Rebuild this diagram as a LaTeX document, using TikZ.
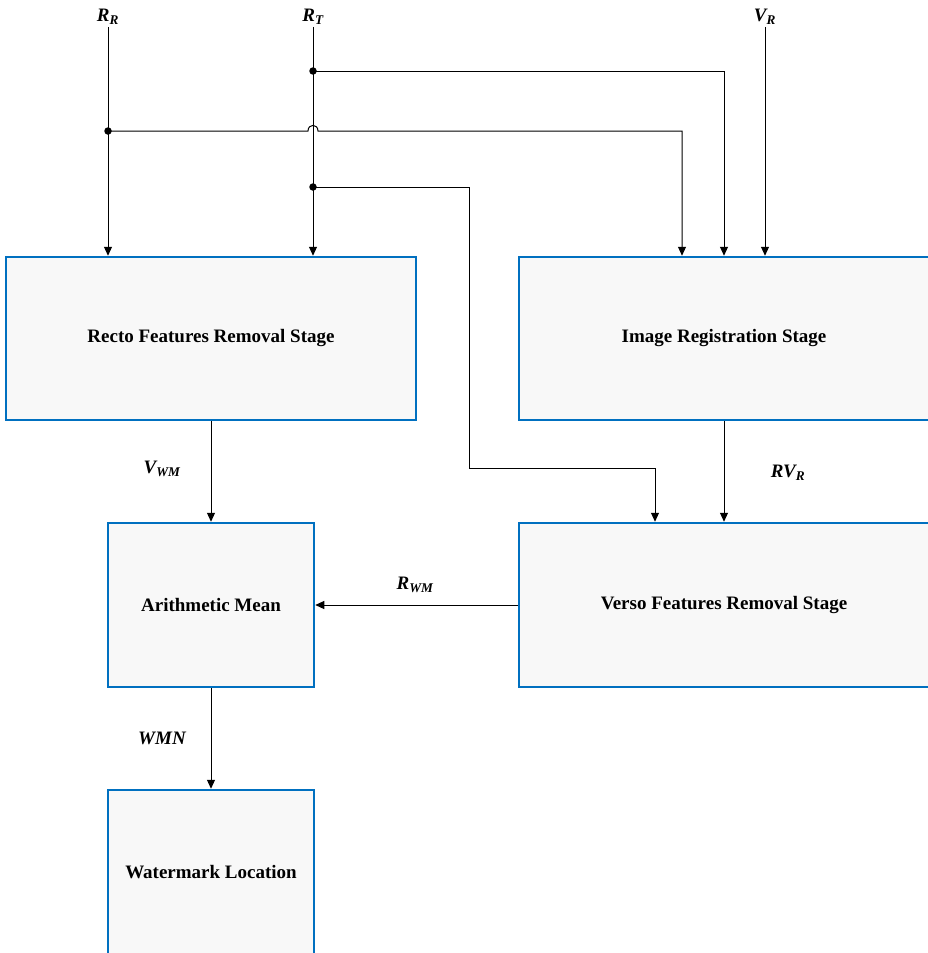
\documentclass[tikz,border=0pt]{standalone}
\usepackage{fontspec}
\setmainfont{Liberation Serif}
\usetikzlibrary{arrows.meta}
\definecolor{boxblue}{RGB}{0,112,192}
\definecolor{boxfill}{RGB}{248,248,248}
\begin{document}
\begin{tikzpicture}[x=1pt,y=-1pt,
  stagebox/.style={draw=boxblue,line width=2.5pt,fill=boxfill,inner sep=0pt,
    font=\fontsize{19}{22}\selectfont\bfseries},
  sig/.style={font=\fontsize{19}{22}\selectfont\bfseries\itshape,inner sep=2pt},
  conn/.style={line width=1pt,-{Triangle[length=9pt,width=8pt]}},
  dot/.style={circle,fill=black,inner sep=0pt,minimum size=7.5pt}]
\useasboundingbox (0,0) rectangle (928,953);
\clip (0,0) rectangle (928,953);

% boxes
\node[stagebox,minimum width=410pt,minimum height=163pt] (recto) at (211,338.5) {Recto Features Removal Stage};
\node[stagebox,minimum width=410pt,minimum height=163pt] (imgreg) at (724,338.5) {Image Registration Stage};
\node[stagebox,minimum width=206pt,minimum height=164pt] (arith) at (211,605) {Arithmetic Mean};
\node[stagebox,minimum width=410pt,minimum height=164pt] (verso) at (724,605) {Verso Features Removal Stage};
\node[stagebox,minimum width=206pt,minimum height=164pt] (water) at (211,872) {Watermark Location};

% input labels
\node[sig] (rr) at (108,17) {R\textsubscript{R}};
\node[sig] (rt) at (313,17) {R\textsubscript{T}};
\node[sig] (vr) at (765,17) {V\textsubscript{R}};

% junctions
\coordinate (j1) at (313,71);
\coordinate (j2) at (108,131);
\coordinate (j3) at (313,187);

% input lines
\draw[conn] (rr.south) -- (rr.south |- recto.north);
\draw[conn] (rt.south) -- (rt.south |- recto.north);
\draw[conn] (vr.south) -- (vr.south |- imgreg.north);
\draw[conn] (j1) -| (imgreg.north);
\draw[conn] (j2) -- (308,131) .. controls (308,123.5) and (318,123.5) .. (318,131) -| ([xshift=-42pt]imgreg.north);
\draw[conn] (j3) -- (469,187) -- (469,468) -| ([xshift=-69pt]verso.north);
\node[dot] at (j1) {};
\node[dot] at (j2) {};
\node[dot] at (j3) {};

% stage connections
\draw[conn] (recto.south) -- (arith.north);
\draw[conn] (imgreg.south) -- (verso.north);
\draw[conn] (verso.west) -- (arith.east);
\draw[conn] (arith.south) -- (water.north);

% connector labels
\node[sig] (lvwm) at (162,469) {V\textsubscript{WM}};
\node[sig] (lrvr) at (788,473) {RV\textsubscript{R}};
\node[sig] (lrwm) at (415,585) {R\textsubscript{WM}};
\node[sig] (lwmn) at (162,738) {WMN};
\end{tikzpicture}
\end{document}
